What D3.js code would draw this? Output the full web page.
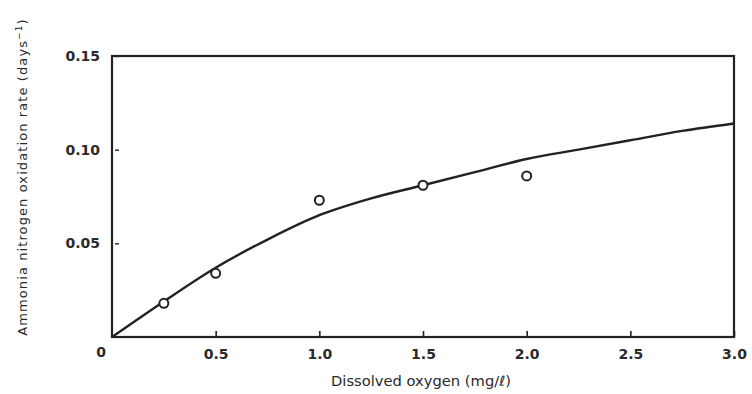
<!DOCTYPE html>
<html lang="en">
<head>
    <script src="https://d3js.org/d3.v7.min.js"></script>
    <title>Ammonia nitrogen oxidation rate</title>
    <style>
        body { margin: 0; background: #fff; }
        text { font-family: "DejaVu Sans", Arial, sans-serif; fill: #2a2a2a; font-weight: bold; }
    </style>
</head>
<body>
    <svg width="752" height="394"></svg>
    <script>

        // measured points (open circles)
        var obsX = [0.25, 0.5, 1.0, 1.5, 2.0];
        var obsY = [0.018, 0.034, 0.073, 0.081, 0.086];

        // fitted curve
        var curveX = [0, 0.25, 0.5, 0.75, 1.0, 1.25, 1.5, 1.75, 2.0, 2.25, 2.5, 2.75, 3.0];
        var curveY = [0, 0.019, 0.037, 0.052, 0.065, 0.074, 0.081, 0.088, 0.095, 0.100, 0.105, 0.110, 0.114];

        var xTicks = [0.5, 1.0, 1.5, 2.0, 2.5, 3.0];
        var yTicks = [0.05, 0.10, 0.15];

        var svg = d3.select("svg");

        var xScale = d3.scaleLinear().domain([0, 3]).range([112, 734]),
            yScale = d3.scaleLinear().domain([0, 0.15]).range([337, 56]);

        var ink = "#222";

        // frame
        svg.append("rect")
            .attr("x", xScale(0))
            .attr("y", yScale(0.15))
            .attr("width", xScale(3) - xScale(0))
            .attr("height", yScale(0) - yScale(0.15))
            .style("fill", "none")
            .style("stroke", ink)
            .style("stroke-width", 2.2);

        // x ticks point inward (up)
        svg.append("g")
            .attr("transform", "translate(0," + yScale(0) + ")")
            .call(d3.axisBottom(xScale).tickValues(xTicks).tickSize(-6).tickPadding(10)
                .tickFormat(d3.format(".1f")))
            .call(function (g) {
                g.select(".domain").remove();
                g.selectAll("line").style("stroke", ink).style("stroke-width", 1.6);
                g.selectAll("text").style("font-size", "14px").attr("dy", "0.85em");
            });

        // y ticks point inward (right)
        svg.append("g")
            .attr("transform", "translate(" + xScale(0) + ",0)")
            .call(d3.axisLeft(yScale).tickValues(yTicks).tickSize(-5).tickPadding(12)
                .tickFormat(d3.format(".2f")))
            .call(function (g) {
                g.select(".domain").remove();
                g.selectAll("line").attr("x1", 3).attr("x2", 7).style("stroke", ink).style("stroke-width", 1.4);
                g.selectAll("text").style("font-size", "14px");
            });

        // shared zero label
        svg.append("text")
            .attr("x", xScale(0) - 11)
            .attr("y", yScale(0) + 20)
            .attr("text-anchor", "middle")
            .style("font-size", "14px")
            .text("0");

        // fitted curve
        var line = d3.line()
            .x(function (d, i) { return xScale(curveX[i]); })
            .y(function (d) { return yScale(d); })
            .curve(d3.curveMonotoneX);

        svg.append("path")
            .datum(curveY)
            .attr("d", line)
            .style("fill", "none")
            .style("stroke", ink)
            .style("stroke-width", 2.4);

        // observations
        svg.append("g")
            .selectAll("circle")
            .data(obsY)
            .enter()
            .append("circle")
            .attr("cx", function (d, i) { return xScale(obsX[i]); })
            .attr("cy", function (d) { return yScale(d); })
            .attr("r", 4.5)
            .style("fill", "#fff")
            .style("stroke", ink)
            .style("stroke-width", 2);

        // axis titles
        svg.append("text")
            .attr("x", 421)
            .attr("y", 386)
            .attr("text-anchor", "middle")
            .style("font-size", "14px")
            .style("font-weight", "normal")
            .attr("textLength", 180)
            .attr("lengthAdjust", "spacingAndGlyphs")
            .text("Dissolved oxygen (mg/ℓ)");

        var yt = svg.append("text")
            .attr("transform", "translate(27,177)rotate(-90)")
            .attr("text-anchor", "middle")
            .style("font-size", "13px")
            .style("font-weight", "normal")
            .style("letter-spacing", "1.1px");
        yt.append("tspan").text("Ammonia nitrogen oxidation rate (days");
        yt.append("tspan").attr("dy", -5).style("font-size", "9px").text("−1");
        yt.append("tspan").attr("dy", 5).text(")");

    </script>
</body>
</html>
